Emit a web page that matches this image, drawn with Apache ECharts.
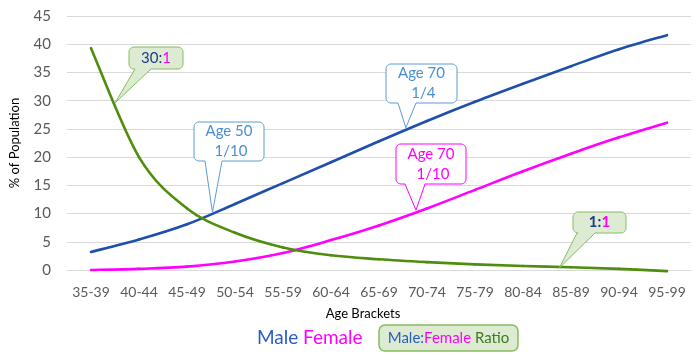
<!DOCTYPE html>
<html><head><meta charset="utf-8">
<script src="https://cdn.jsdelivr.net/npm/echarts@6/dist/echarts.min.js"></script>
<style>html,body{margin:0;padding:0;background:#fff}#c{width:700px;height:361px}</style>
</head><body><div id="c"></div>
<script>
var categories = ['35-39','40-44','45-49','50-54','55-59','60-64','65-69','70-74','75-79','80-84','85-89','90-94','95-99'];
var maleValues = [3.2, 5.4, 8.1, 11.7, 15.4, 19.1, 22.8, 26.4, 29.8, 33.0, 36.1, 39.1, 41.6];
var femaleValues = [0.0, 0.2, 0.6, 1.5, 3.0, 5.3, 7.9, 10.9, 14.2, 17.5, 20.6, 23.5, 26.1];
var ratioValues = [39.3, 20.0, 10.9, 6.6, 4.0, 2.6, 1.9, 1.4, 1.0, 0.7, 0.5, 0.2, -0.2];
var yTicks = [0, 5, 10, 15, 20, 25, 30, 35, 40, 45];
// callout anchors: fractional category index and value
var callouts = [
  {id:'c1', at:[0.50, 29.6], text:'{a|30:}{b|1}'},
  {id:'c2', at:[2.53, 10.2], text:'Age 50\n 1/10'},
  {id:'c3', at:[6.56, 25.2], text:'Age 70\n 1/4'},
  {id:'c4', at:[6.77, 10.6], text:'Age 70\n 1/10'},
  {id:'c5', at:[9.76, 0.4], text:'{a|1:}{b|1}'}
];

var FONT = 'Lato, "Open Sans", sans-serif';
var BLUE = '#1E4FA9', MAG = '#FF00FF', GREEN = '#4E8E0C';

function smoothSeries(name, values, color){
  return {
    name:name, type:'custom', clip:false,
    data: values.map(function(v,i){ return [i, v]; }),
    encode:{x:0, y:1},
    renderItem: function(params, api){
      var i = params.dataIndex, n = values.length;
      if (i >= n-1) return {type:'group', children:[]};
      var p0 = api.coord([Math.max(i-1,0), values[Math.max(i-1,0)]]);
      var p1 = api.coord([i, values[i]]);
      var p2 = api.coord([i+1, values[i+1]]);
      var p3 = api.coord([Math.min(i+2,n-1), values[Math.min(i+2,n-1)]]);
      return {type:'bezierCurve', shape:{
          x1:p1[0], y1:p1[1], x2:p2[0], y2:p2[1],
          cpx1:p1[0]+(p2[0]-p0[0])/6, cpy1:p1[1]+(p2[1]-p0[1])/6,
          cpx2:p2[0]-(p3[0]-p1[0])/6, cpy2:p2[1]-(p3[1]-p1[1])/6},
        style:{stroke:color, lineWidth:2.6, fill:null, lineCap:'round'}};
    }
  };
}

var chart = echarts.init(document.getElementById('c'), null, {renderer:'canvas'});
chart.setOption({
  animation:false,
  grid:{left:65, right:9, top:16, bottom:91, containLabel:false},
  xAxis:{type:'category', data:categories, boundaryGap:true,
    name:'Age Brackets', nameLocation:'middle', nameGap:37,
    nameTextStyle:{fontFamily:FONT, fontSize:13, color:'#000', padding:[0,32,0,0]},
    axisLine:{show:false}, axisTick:{show:false},
    axisLabel:{fontFamily:FONT, fontSize:14, color:'#595959', margin:15, interval:0}},
  yAxis:{type:'value', min:yTicks[0], max:yTicks[yTicks.length-1], interval:5,
    name:'% of Population', nameLocation:'middle', nameGap:46, nameRotate:90,
    nameTextStyle:{fontFamily:FONT, fontSize:13, color:'#000'},
    axisLine:{show:false}, axisTick:{show:false},
    splitLine:{lineStyle:{color:'#D9D9D9', width:1}},
    axisLabel:{fontFamily:FONT, fontSize:15, color:'#595959', margin:16}},
  series:[
    smoothSeries('Male', maleValues, BLUE),
    smoothSeries('Female', femaleValues, MAG),
    smoothSeries('Male:Female Ratio', ratioValues, GREEN)
  ]
});

function px(at){
  var i0 = Math.floor(at[0]), f = at[0]-i0;
  var p0 = chart.convertToPixel({gridIndex:0}, [i0, at[1]]);
  var p1 = chart.convertToPixel({gridIndex:0}, [i0+1, at[1]]);
  return [p0[0] + (p1[0]-p0[0])*f, p0[1]];
}
function arc(pts, cx, cy, r, a0, a1){
  for (var k=0;k<=6;k++){ var a=a0+(a1-a0)*k/6; pts.push([cx+r*Math.cos(a), cy+r*Math.sin(a)]); }
}
function bubble(x1,y1,x2,y2,r,b1,b2,t){
  var P = Math.PI, pts = [];
  arc(pts, x2-r, y1+r, r, -P/2, 0);
  arc(pts, x2-r, y2-r, r, 0, P/2);
  pts.push([b2,y2]); pts.push(t); pts.push([b1,y2]);
  arc(pts, x1+r, y2-r, r, P/2, P);
  arc(pts, x1+r, y1+r, r, P, 1.5*P);
  return pts;
}
// layout of boxes (pixel positions of callout boxes)
var boxes = {
  c1:{x1:129,y1:47,x2:183,y2:69,b1:135,b2:151,fill:'#DDEBD3',stroke:'#86BC5E',color:'#1F3A8A',size:15,w:'normal'},
  c2:{x1:194,y1:122,x2:264,y2:161,b1:205,b2:222,fill:'#FFFFFF',stroke:'#5B9BD5',color:'#4A8ED2',size:15,w:'normal'},
  c3:{x1:386,y1:64,x2:457,y2:103,b1:398,b2:416,fill:'#FFFFFF',stroke:'#5B9BD5',color:'#4A8ED2',size:15,w:'normal'},
  c4:{x1:396,y1:144,x2:466,y2:184,b1:405,b2:425,fill:'#FFFFFF',stroke:MAG,color:MAG,size:15,w:'normal'},
  c5:{x1:573,y1:212,x2:626,y2:233,b1:577,b2:595,fill:'#DDEBD3',stroke:'#86BC5E',color:'#1F3A8A',size:15,w:'bold'}
};
var g = [];
callouts.forEach(function(c){
  var b = boxes[c.id], t = px(c.at);
  g.push({type:'polygon', shape:{points:bubble(b.x1,b.y1,b.x2,b.y2,5,b.b1,b.b2,t)},
    style:{fill:b.fill, stroke:b.stroke, lineWidth:1}, z:10});
  g.push({type:'text', x:(b.x1+b.x2)/2, y:(b.y1+b.y2)/2, z:11,
    style:{text:c.text, fontFamily:FONT, fontSize:b.size, fill:b.color, align:'center', verticalAlign:'middle',
      lineHeight:20, fontWeight:b.w,
      rich:{a:{fontFamily:FONT, fontSize:b.size, fill:'#1F3A8A', fontWeight:b.w},
            b:{fontFamily:FONT, fontSize:b.size, fill:MAG, fontWeight:b.w}}}});
});
// legend
g.push({type:'text', x:257, y:338, z:11, style:{text:'Male', fontFamily:FONT, fontSize:19, fill:'#2B5CC0', verticalAlign:'middle'}});
g.push({type:'text', x:303, y:338, z:11, style:{text:'Female', fontFamily:FONT, fontSize:19, fill:MAG, verticalAlign:'middle'}});
g.push({type:'rect', shape:{x:379, y:325, width:139, height:26, r:6}, z:10,
  style:{fill:'#DDEBD3', stroke:'#86BC5E', lineWidth:1.5}});
g.push({type:'text', x:448.5, y:338, z:11, style:{text:'{a|Male:}{b|Female}{c| Ratio}', align:'center', verticalAlign:'middle',
  fontFamily:FONT, fontSize:15,
  rich:{a:{fontFamily:FONT, fontSize:15, fill:'#2B5CC0'},
        b:{fontFamily:FONT, fontSize:15, fill:MAG},
        c:{fontFamily:FONT, fontSize:15, fill:'#3F7A1E'}}}});
chart.setOption({graphic:g});
</script></body></html>
